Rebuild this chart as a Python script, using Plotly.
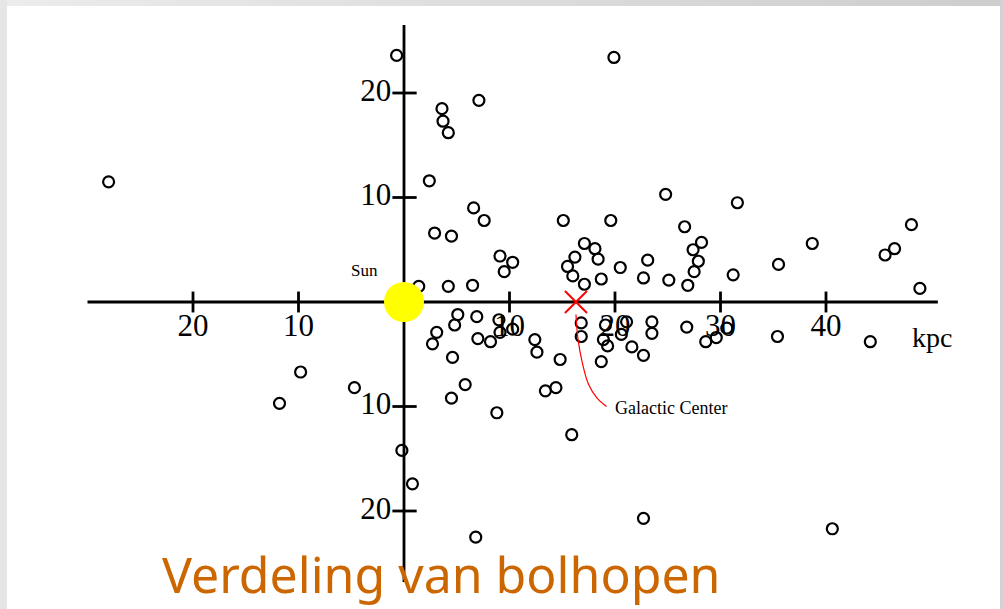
import plotly.graph_objects as go

# Globular cluster positions (kpc), Sun at the origin
cluster_x = [
    -28.0, -0.7, 19.9, 7.1, 3.6, 3.7, 4.2, 2.4, 6.6, 7.6, 2.9, 4.5, 15.1, 19.6,
    24.8, 31.6, 26.6, 48.1, 38.7, 46.5, 45.6, 35.5, 31.2, 48.9, 9.1, 10.3, 9.5,
    1.4, 4.2, 6.5, 17.1, 18.1, 18.4, 16.2, 15.5, 16.0, 17.1, 18.7, 20.5, 23.1,
    22.7, 25.1, 28.2, 27.4, 27.9, 27.5, 26.9, 5.1, 4.8, 6.9, 3.1, 2.7, 7.0, 8.2,
    9.0, 9.1, 10.3, 4.6, 12.4, 12.6, 14.8, 16.8, 16.8, 19.1, 21.1, 20.6, 18.9,
    19.3, 18.7, 21.6, 22.7, 23.5, 23.5, 26.8, 30.6, 29.6, 28.6, 35.4, 44.2, 5.8,
    4.5, 14.4, 13.4, 8.8, 15.9, -9.8, -11.8, -4.7, -0.2, 0.8, 6.8, 22.7, 40.6,
]
cluster_y = [
    11.5, 23.6, 23.4, 19.3, 18.5, 17.3, 16.2, 11.6, 9.0, 7.8, 6.6, 6.3, 7.8, 7.8,
    10.3, 9.5, 7.2, 7.4, 5.6, 5.1, 4.5, 3.6, 2.6, 1.3, 4.4, 3.8, 2.9,
    1.5, 1.5, 1.6, 5.6, 5.1, 4.1, 4.3, 3.4, 2.5, 1.7, 2.2, 3.3, 4.0,
    2.3, 2.1, 5.7, 5.0, 3.9, 2.9, 1.6, -1.2, -2.2, -1.4, -2.9, -4.0, -3.5, -3.8,
    -1.7, -2.9, -2.6, -5.3, -3.6, -4.8, -5.5, -2.0, -3.3, -2.2, -1.9, -3.1, -3.6,
    -4.2, -5.7, -4.3, -5.1, -1.9, -3.0, -2.4, -2.5, -3.4, -3.8, -3.3, -3.8, -7.9,
    -9.2, -8.2, -8.5, -10.6, -12.7, -6.7, -9.7, -8.2, -14.2, -17.4, -22.5, -20.7, -21.7,
]

# Axis extents and ticks (kpc)
x_axis_span = [-30.0, 50.6]
y_axis_span = [-26.8, 26.5]
x_ticks = [-20, -10, 10, 20, 30, 40]
x_tick_labels = ["20", "10", "10", "20", "30", "40"]
y_ticks = [20, 10, -10, -20]
y_tick_labels = ["20", "10", "10", "20"]

sun_pos = (0.0, 0.0)
galactic_center = (16.3, 0.0)
# Pointer line from the Galactic Center mark to its label
pointer_x = [16.3, 16.5, 16.9, 17.5, 18.3, 19.2]
pointer_y = [-1.2, -3.6, -5.8, -7.9, -9.2, -10.0]

W, H = 1003, 609
PX_X, PX_Y = 10.55, 10.45          # pixels per kpc
ORIGIN_PX = (404, 302)
x_range = [-ORIGIN_PX[0] / PX_X, (W - ORIGIN_PX[0]) / PX_X]
y_range = [(ORIGIN_PX[1] - H) / PX_Y, ORIGIN_PX[1] / PX_Y]

serif = "Liberation Serif, Times New Roman, serif"
fig = go.Figure()

# Axis lines
fig.add_trace(go.Scatter(x=x_axis_span, y=[0, 0], mode="lines",
                         line=dict(color="black", width=2.8), hoverinfo="skip"))
fig.add_trace(go.Scatter(x=[0, 0], y=y_axis_span, mode="lines",
                         line=dict(color="black", width=2.8), hoverinfo="skip"))

# Tick marks crossing the axes
tx, ty = [], []
for v in x_ticks:
    tx += [v, v, None]
    ty += [1.0, -1.0, None]
for v in y_ticks:
    tx += [-1.1, 1.2, None]
    ty += [v, v, None]
fig.add_trace(go.Scatter(x=tx, y=ty, mode="lines",
                         line=dict(color="black", width=2.8), hoverinfo="skip"))

# Tick labels
fig.add_trace(go.Scatter(x=x_ticks, y=[-2.5] * len(x_ticks), mode="text",
                         text=x_tick_labels,
                         textfont=dict(family=serif, size=31, color="black"),
                         hoverinfo="skip"))
fig.add_trace(go.Scatter(x=[-1.2] * len(y_ticks), y=y_ticks, mode="text",
                         text=y_tick_labels, textposition="middle left",
                         textfont=dict(family=serif, size=31, color="black"),
                         hoverinfo="skip"))

# Clusters
fig.add_trace(go.Scatter(x=cluster_x, y=cluster_y, mode="markers",
                         marker=dict(symbol="circle-open", size=11,
                                     color="black", line=dict(width=2.2))))

# Galactic Center mark and pointer
fig.add_trace(go.Scatter(x=pointer_x, y=pointer_y, mode="lines",
                         line=dict(color="red", width=1.2, shape="spline"),
                         hoverinfo="skip"))
fig.add_trace(go.Scatter(x=[galactic_center[0]], y=[galactic_center[1]],
                         mode="markers",
                         marker=dict(symbol="x-thin-open", size=22, color="red",
                                     line=dict(width=2, color="red"))))

# Sun
fig.add_trace(go.Scatter(x=[sun_pos[0]], y=[sun_pos[1]], mode="markers",
                         marker=dict(symbol="circle", size=40, color="#FFFF00",
                                     line=dict(width=0))))

fig.add_annotation(x=-3.7, y=3.0, text="Sun", showarrow=False,
                   font=dict(family=serif, size=17, color="black"))
fig.add_annotation(x=19.8, y=-10.1, text="Galactic Center", showarrow=False,
                   xanchor="left", font=dict(family=serif, size=18, color="black"))
fig.add_annotation(x=50.0, y=-3.4, text="kpc", showarrow=False,
                   font=dict(family=serif, size=28, color="black"))

# Slide title
fig.add_annotation(x=160 / W, y=1 - 574 / H, xref="paper", yref="paper",
                   text="Verdeling van bolhopen", showarrow=False,
                   xanchor="left", yanchor="middle",
                   font=dict(family="Comic Sans MS, Noto Sans, sans-serif",
                             size=50, color="#CC6600"))

# Grey slide frame: top band shaded from light to darker, plus side bands
shapes = []
n_seg = 40
for i in range(n_seg):
    g = int(236 - (236 - 206) * i / (n_seg - 1))
    shapes.append(dict(type="rect", xref="paper", yref="paper",
                       x0=i / n_seg, x1=(i + 1) / n_seg + 0.001,
                       y0=1 - 6 / H, y1=1, line=dict(width=0),
                       fillcolor=f"rgb({g},{g},{g})", layer="below"))
shapes.append(dict(type="rect", xref="paper", yref="paper",
                   x0=0, x1=7 / W, y0=0, y1=1, line=dict(width=0),
                   fillcolor="#e6e6e6", layer="below"))
shapes.append(dict(type="rect", xref="paper", yref="paper",
                   x0=1000 / W, x1=1, y0=0, y1=1, line=dict(width=0),
                   fillcolor="#d2d2d2", layer="below"))

fig.update_layout(
    width=W, height=H,
    margin=dict(l=0, r=0, t=0, b=0),
    paper_bgcolor="white", plot_bgcolor="rgba(0,0,0,0)",
    showlegend=False,
    xaxis=dict(range=x_range, visible=False, fixedrange=True),
    yaxis=dict(range=y_range, visible=False, fixedrange=True),
    shapes=shapes,
)

fig.write_html("out.html")
